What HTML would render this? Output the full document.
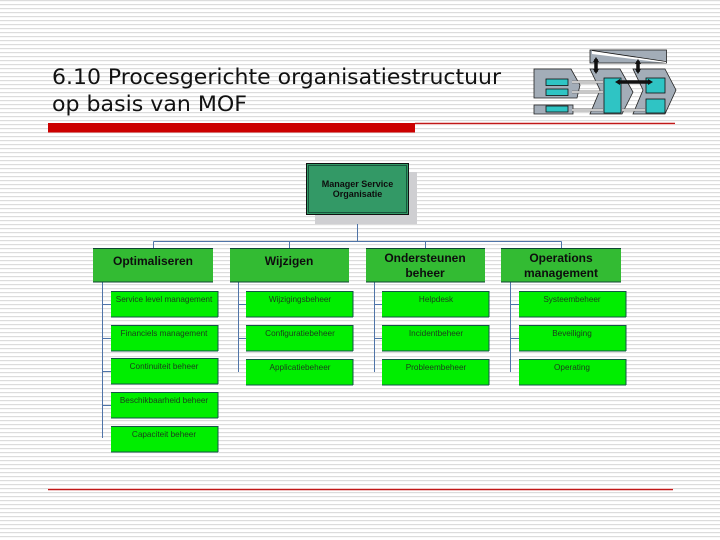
<!DOCTYPE html>
<html><head><meta charset="utf-8"><style>
html,body{margin:0;padding:0;background:#fff;width:720px;height:540px;overflow:hidden}
svg{display:block}
text{font-family:"Liberation Sans",sans-serif}
</style></head><body>
<svg width="720" height="540" viewBox="0 0 720 540" xmlns="http://www.w3.org/2000/svg">
<defs>
<pattern id="st" width="4" height="4" patternUnits="userSpaceOnUse"><rect width="4" height="4" fill="#fff"/><rect width="4" height="1.2" fill="#dcdcdc"/></pattern>
<filter id="b"><feGaussianBlur stdDeviation="0.3"/></filter>
</defs>
<rect width="720" height="540" fill="url(#st)"/>

<text x="52" y="84" font-size="21.5" style="font-family:'DejaVu Sans',sans-serif" textLength="449" lengthAdjust="spacingAndGlyphs" fill="#111">6.10 Procesgerichte organisatiestructuur</text>
<text x="52" y="111" font-size="21.5" style="font-family:'DejaVu Sans',sans-serif" textLength="195" lengthAdjust="spacingAndGlyphs" fill="#111">op basis van MOF</text>

<rect x="48" y="123" width="367" height="9.500" fill="#cc0000"/>
<rect x="415" y="122" width="260" height="3" fill="#f0c4c4"/>
<rect x="415" y="123" width="260" height="1" fill="#c01818"/>
<rect x="48" y="488" width="625" height="3" fill="#f0c4c4"/>
<rect x="48" y="489" width="625" height="1" fill="#c01818"/>

<!-- icon -->
<g stroke="#222" stroke-width="0.8">
<rect x="590" y="50" width="76.500" height="13" fill="#a3adb8"/>
<polygon points="592,50.500 666,61 666,63 592,54" fill="#fff" stroke="none"/>
<path d="M592 50.500L666 61.500" stroke="#111" fill="none"/>
<polygon points="534,69 571,69 580,85 577,98 534,98" fill="#a3adb8"/>
<polygon points="534,105 573,105 573,114 534,114" fill="#a3adb8"/>
<polygon points="590,69 620,69 633,92 622,114 590,114 600,90" fill="#a3adb8"/>
<polygon points="633,69 665,69 676,90 665,114 633,114 643,90" fill="#a3adb8"/>
<g fill="#2fc4c4" stroke="#111">
<rect x="546" y="79" width="22" height="6.500"/>
<rect x="546" y="89" width="22" height="6.500"/>
<rect x="546" y="106" width="22" height="6"/>
<rect x="604" y="78" width="17" height="35"/>
<rect x="646" y="78" width="19" height="15"/>
<rect x="646" y="99" width="19" height="14"/>
</g>
</g>
<g stroke="#fff" stroke-width="2.500" fill="none"><path d="M572 82H603M572 92H603M572 110H603M622 110H645"/></g>
<g stroke="#222" stroke-width="0.6" fill="none"><path d="M572 81H603M572 83H603M572 91H603M572 93H603M572 109H603M572 111H603M622 109H645M622 111H645"/></g>
<g stroke="#111" stroke-width="3.500" fill="none"><path d="M596 59V72M638 61V72M618 82H650"/></g>
<g fill="#111"><polygon points="596,57 593,62 599,62"/><polygon points="596,74 593,69 599,69"/><polygon points="638,59 635,64 641,64"/><polygon points="638,74 635,69 641,69"/><polygon points="615,82 620,79 620,85"/><polygon points="653,82 648,79 648,85"/></g>

<!-- connectors -->
<g stroke="#4f74a8" stroke-width="1" fill="none" shape-rendering="crispEdges">
<path d="M357.500 215V241.500M153.500 241.500H561.500M153.500 241.500V248M289.500 241.500V248M425.500 241.500V248M561.500 241.500V248"/>
<path d="M102.500 282V438M102.500 304.500H111M102.500 338.500H111M102.500 371.500H111M102.500 405.500H111"/>
<path d="M238.500 282V372M238.500 304.500H246M238.500 338.500H246"/>
<path d="M374.500 282V372M374.500 304.500H382M374.500 338.500H382"/>
<path d="M510.500 282V372M510.500 304.500H519M510.500 338.500H519"/>
</g>

<!-- manager -->
<rect x="315" y="172" width="102" height="52" fill="#cfcfd2"/>
<rect x="306.500" y="163.500" width="102" height="51" fill="#339966" stroke="#111" stroke-width="1"/>
<rect x="308.500" y="165.500" width="98" height="47" fill="none" stroke="#143" stroke-width="0.8"/>
<g text-anchor="middle" fill="#111" font-size="9" font-weight="bold" filter="url(#b)">
<text x="357.500" y="187">Manager Service</text>
<text x="357.500" y="197">Organisatie</text>
</g>

<!-- level 2 -->
<g fill="#33bb33" shape-rendering="crispEdges">
<rect x="93" y="248" width="120" height="34"/>
<rect x="230" y="248" width="119" height="34"/>
<rect x="366" y="248" width="119" height="34"/>
<rect x="501" y="248" width="120" height="34"/>
</g>
<g stroke="#143" stroke-width="1" fill="none" shape-rendering="crispEdges">
<path d="M93 248.500H213M93 282H213M230 248.500H349M230 282H349M366 248.500H485M366 282H485M501 248.500H621M501 282H621"/>
</g>
<g text-anchor="middle" fill="#111" font-size="12" font-weight="bold" filter="url(#b)">
<text x="153" y="265">Optimaliseren</text>
<text x="289" y="265">Wijzigen</text>
<text x="425" y="262">Ondersteunen</text>
<text x="425" y="277">beheer</text>
<text x="561" y="262">Operations</text>
<text x="561" y="277">management</text>
</g>

<!-- level 3 -->
<g fill="#00ee00" shape-rendering="crispEdges">
<rect x="111" y="291" width="107" height="26"/>
<rect x="111" y="325" width="107" height="26"/>
<rect x="111" y="358" width="107" height="26"/>
<rect x="111" y="392" width="107" height="26"/>
<rect x="111" y="426" width="107" height="26"/>
<rect x="246" y="291" width="107" height="26"/>
<rect x="246" y="325" width="107" height="26"/>
<rect x="246" y="359" width="107" height="26"/>
<rect x="382" y="291" width="107" height="26"/>
<rect x="382" y="325" width="107" height="26"/>
<rect x="382" y="359" width="107" height="26"/>
<rect x="519" y="291" width="107" height="26"/>
<rect x="519" y="325" width="107" height="26"/>
<rect x="519" y="359" width="107" height="26"/>
</g>
<g stroke="#154" stroke-width="1" fill="none" shape-rendering="crispEdges">
<path d="M111 291.500H218M111 317H218M111 325.500H218M111 351H218M111 358.500H218M111 384H218M111 392.500H218M111 418H218M111 426.500H218M111 452H218"/>
<path d="M246 291.500H353M246 317H353M246 325.500H353M246 351H353M246 359.500H353M246 385H353"/>
<path d="M382 291.500H489M382 317H489M382 325.500H489M382 351H489M382 359.500H489M382 385H489"/>
<path d="M519 291.500H626M519 317H626M519 325.500H626M519 351H626M519 359.500H626M519 385H626"/>
<path d="M218 291V317M218 325V351M218 358V384M218 392V418M218 426V452M353 291V317M353 325V351M353 359V385M489 291V317M489 325V351M489 359V385M626 291V317M626 325V351M626 359V385"/>
</g>
<g text-anchor="middle" fill="#1c3a1c" font-size="8.200" filter="url(#b)">
<text x="164" y="302">Service level management</text>
<text x="164" y="336">Financiels management</text>
<text x="164" y="369">Continuiteit beheer</text>
<text x="164" y="403">Beschikbaarheid beheer</text>
<text x="164" y="437">Capaciteit beheer</text>
<text x="300" y="302">Wijzigingsbeheer</text>
<text x="300" y="336">Configuratiebeheer</text>
<text x="300" y="370">Applicatiebeheer</text>
<text x="436" y="302">Helpdesk</text>
<text x="436" y="336">Incidentbeheer</text>
<text x="436" y="370">Probleembeheer</text>
<text x="572" y="302">Systeembeheer</text>
<text x="572" y="336">Beveiliging</text>
<text x="572" y="370">Operating</text>
</g>
</svg>
</body></html>
